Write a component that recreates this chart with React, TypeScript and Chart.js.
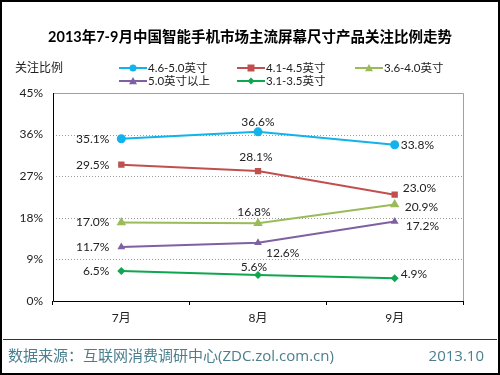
import React, { useEffect, useRef } from "react";
import { Chart, registerables } from "chart.js";

Chart.register(...registerables);

const categories = ["7月", "8月", "9月"];
const seriesNames = ["4.6-5.0英寸", "4.1-4.5英寸", "3.6-4.0英寸", "5.0英寸以上", "3.1-3.5英寸"];
const s46_50 = [35.1, 36.6, 33.8];
const s41_45 = [29.5, 28.1, 23.0];
const s36_40 = [17.0, 16.8, 20.9];
const s50up = [11.7, 12.6, 17.2];
const s31_35 = [6.5, 5.6, 4.9];
const yTicks = [0, 9, 18, 27, 36, 45];

const title = "2013年7-9月中国智能手机市场主流屏幕尺寸产品关注比例走势";
const yTitle = "关注比例";
const source = "数据来源：互联网消费调研中心(ZDC.zol.com.cn)";
const dateText = "2013.10";

const colors = ["#12b2ea", "#c0504d", "#9bbb59", "#7f60a2", "#0fa650"];
const shapes = ["circle", "rect", "triangle", "triangle", "rectRot"];
const radii = [4.5, 4.5, 5.5, 4.5, 4];

// label placement per series per point: [dx, dy, align]
const labelPos: [number, number, CanvasTextAlign][][] = [
  [[-12, 0, "right"], [0, -10, "center"], [6, 0, "left"]],
  [[-12, 0, "right"], [-2, -14, "center"], [8, -7, "left"]],
  [[-12, 0, "right"], [-4, -11, "center"], [10, 3, "left"]],
  [[-12, 0, "right"], [8, 10, "left"], [11, 5, "left"]],
  [[-12, 0, "right"], [-4, -8, "center"], [6, -4, "left"]],
];

const FONT = "Lato, 'Noto Sans CJK SC', sans-serif";
const FOOT_FONT = "'Open Sans', 'Noto Sans CJK SC', sans-serif";

function drawMarker(ctx: CanvasRenderingContext2D, shape: string, x: number, y: number, r: number, color: string) {
  ctx.save();
  ctx.fillStyle = color;
  ctx.beginPath();
  if (shape === "circle") {
    ctx.arc(x, y, r, 0, Math.PI * 2);
  } else if (shape === "rect") {
    ctx.rect(x - r, y - r, r * 2, r * 2);
  } else if (shape === "triangle") {
    ctx.moveTo(x, y - r);
    ctx.lineTo(x + r, y + r * 0.8);
    ctx.lineTo(x - r, y + r * 0.8);
    ctx.closePath();
  } else {
    ctx.moveTo(x, y - r);
    ctx.lineTo(x + r, y);
    ctx.lineTo(x, y + r);
    ctx.lineTo(x - r, y);
    ctx.closePath();
  }
  ctx.fill();
  ctx.restore();
}

const decorPlugin = {
  id: "decor",
  beforeDraw(chart: any) {
    const ctx = chart.ctx as CanvasRenderingContext2D;
    ctx.save();
    ctx.fillStyle = "#ffffff";
    ctx.fillRect(0, 0, chart.width, chart.height);
    ctx.restore();
  },
  beforeDatasetsDraw(chart: any) {
    const ctx = chart.ctx as CanvasRenderingContext2D;
    const area = chart.chartArea;
    const y = chart.scales.y;
    ctx.save();
    ctx.strokeStyle = "#9a9a9a";
    ctx.lineWidth = 1;
    ctx.setLineDash([1, 2]);
    yTicks.forEach((v) => {
      if (v === 0 || v === 45) return;
      const py = Math.round(y.getPixelForValue(v)) + 0.5;
      ctx.beginPath();
      ctx.moveTo(area.left, py);
      ctx.lineTo(area.right, py);
      ctx.stroke();
    });
    ctx.restore();
  },
  afterDatasetsDraw(chart: any) {
    const ctx = chart.ctx as CanvasRenderingContext2D;
    const area = chart.chartArea;
    ctx.save();
    // plot box
    ctx.strokeStyle = "#a0a0a0";
    ctx.lineWidth = 1;
    ctx.beginPath();
    ctx.moveTo(area.left, area.top + 0.5);
    ctx.lineTo(area.right + 0.5, area.top + 0.5);
    ctx.lineTo(area.right + 0.5, area.bottom);
    ctx.stroke();
    ctx.strokeStyle = "#000000";
    ctx.beginPath();
    ctx.moveTo(area.left + 0.5, area.top);
    ctx.lineTo(area.left + 0.5, area.bottom + 0.5);
    ctx.lineTo(area.right + 1, area.bottom + 0.5);
    ctx.stroke();

    // data labels
    ctx.font = `12px ${FONT}`;
    ctx.fillStyle = "#222222";
    ctx.textBaseline = "middle";
    chart.data.datasets.forEach((ds: any, i: number) => {
      const meta = chart.getDatasetMeta(i);
      meta.data.forEach((pt: any, j: number) => {
        const [dx, dy, align] = labelPos[i][j];
        ctx.textAlign = align;
        ctx.fillText(ds.data[j].toFixed(1) + "%", pt.x + dx, pt.y + dy);
      });
    });

    // title
    ctx.fillStyle = "#000000";
    ctx.textAlign = "center";
    ctx.font = `bold 14.5px ${FONT}`;
    ctx.fillText(title, 250, 37);

    // y title
    ctx.font = `12px ${FONT}`;
    ctx.textAlign = "left";
    ctx.fillStyle = "#222222";
    ctx.fillText(yTitle, 15, 68);

    // legend
    const legendPos = [[119, 68], [237, 68], [355, 68], [119, 81], [237, 81]];
    ctx.font = `11.5px ${FONT}`;
    seriesNames.forEach((name, i) => {
      const [lx, ly] = legendPos[i];
      ctx.strokeStyle = colors[i];
      ctx.lineWidth = 2;
      ctx.beginPath();
      ctx.moveTo(lx, ly);
      ctx.lineTo(lx + 28, ly);
      ctx.stroke();
      drawMarker(ctx, shapes[i], lx + 14, ly, i === 2 || i === 3 ? 4 : 3.5, colors[i]);
      ctx.fillStyle = "#222222";
      ctx.textAlign = "left";
      ctx.fillText(name, lx + 29, ly);
    });

    // footer
    ctx.strokeStyle = "#333333";
    ctx.lineWidth = 1;
    ctx.beginPath();
    ctx.moveTo(3, 339.5);
    ctx.lineTo(497, 339.5);
    ctx.stroke();
    ctx.fillStyle = "#4a7f8e";
    ctx.font = `15px ${FOOT_FONT}`;
    ctx.textAlign = "left";
    ctx.fillText(source, 8, 357);
    ctx.textAlign = "right";
    ctx.fillText(dateText, 484, 357);

    // outer border
    ctx.strokeStyle = "#000000";
    ctx.lineWidth = 2;
    ctx.strokeRect(1, 1, 498, 373);
    ctx.restore();
  },
};

export default function App() {
  const ref = useRef<HTMLCanvasElement>(null);
  useEffect(() => {
    const seriesData = [s46_50, s41_45, s36_40, s50up, s31_35];
    const chart = new Chart(ref.current as HTMLCanvasElement, {
      type: "line",
      data: {
        labels: categories,
        datasets: seriesNames.map((name, i) => ({
          label: name,
          data: seriesData[i],
          borderColor: colors[i],
          backgroundColor: colors[i],
          borderWidth: 2,
          pointStyle: shapes[i] as any,
          pointRadius: radii[i],
          pointBorderWidth: 0,
          pointHoverRadius: radii[i],
          tension: 0,
          fill: false,
        })),
      },
      options: {
        animation: false,
        responsive: false,
        devicePixelRatio: 1,
        layout: { padding: { top: 93, left: 0, right: 37, bottom: 44 } },
        plugins: {
          legend: { display: false },
          title: { display: false },
          tooltip: { enabled: false },
        },
        scales: {
          x: {
            offset: true,
            border: { display: false },
            grid: {
              offset: true,
              drawOnChartArea: false,
              drawTicks: true,
              tickLength: 4,
              color: "#000000",
            },
            ticks: { color: "#222222", font: { family: FONT, size: 12 }, padding: 6 },
            afterFit: (s: any) => {
              s.height = 30;
            },
          },
          y: {
            min: 0,
            max: 45,
            afterBuildTicks: (s: any) => {
              s.ticks = yTicks.map((v) => ({ value: v }));
            },
            border: { display: false },
            grid: { display: false, drawTicks: false },
            ticks: {
              color: "#222222",
              font: { family: FONT, size: 12 },
              padding: 10,
              callback: (v: any) => v + "%",
            },
            afterFit: (s: any) => {
              s.width = 53;
            },
          },
        },
      },
      plugins: [decorPlugin],
    });
    return () => chart.destroy();
  }, []);
  return (
    <div style={{ position: "fixed", left: 0, top: 0, width: 500, height: 375, background: "#fff" }}>
      <canvas ref={ref} width={500} height={375} style={{ width: 500, height: 375, display: "block" }} />
    </div>
  );
}
